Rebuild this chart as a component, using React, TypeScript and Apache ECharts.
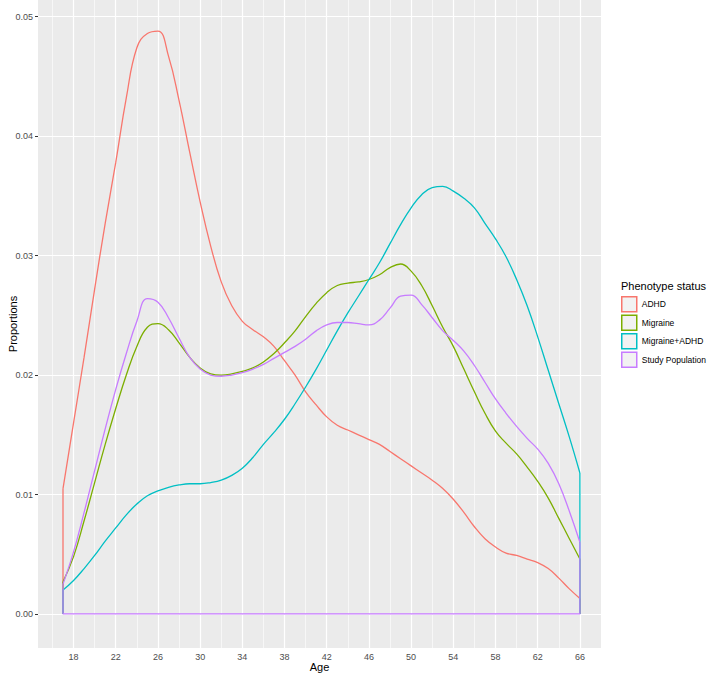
import React, { useEffect, useRef } from "react";
import * as echarts from "echarts";

const ages = [17,18,19,20,21,22,23,24,25,26,27,28,29,30,31,32,33,34,35,36,37,38,39,40,41,42,43,44,45,46,47,48,49,50,51,52,53,54,55,56,57,58,59,60,61,62,63,64,65,66];

const adhd = [0.0105,0.0160,0.0215,0.0272,0.0327,0.0378,0.0432,0.0474,0.0486,0.0488,0.0467,0.0430,0.0387,0.0345,0.0308,0.0278,0.0258,0.0245,0.0238,0.0232,0.0224,0.0212,0.0200,0.0186,0.0175,0.0165,0.0158,0.0154,0.0150,0.0146,0.0142,0.0136,0.0130,0.0124,0.0118,0.0112,0.0105,0.0096,0.0085,0.0073,0.0063,0.0056,0.0051,0.0049,0.0046,0.0043,0.0038,0.0030,0.0021,0.0013];
const migraine = [0.0027,0.0048,0.0078,0.0110,0.0142,0.0172,0.0200,0.0224,0.0240,0.0243,0.0238,0.0227,0.0215,0.0206,0.0201,0.0200,0.0201,0.0203,0.0206,0.0211,0.0218,0.0227,0.0237,0.0249,0.0260,0.0269,0.0275,0.0277,0.0278,0.0280,0.0284,0.0290,0.0293,0.0287,0.0275,0.0258,0.0240,0.0224,0.0205,0.0186,0.0168,0.0153,0.0143,0.0134,0.0123,0.0111,0.0097,0.0080,0.0063,0.0046];
const migraineAdhd = [0.0020,0.0028,0.0038,0.0049,0.0061,0.0072,0.0083,0.0092,0.0099,0.0103,0.0106,0.0108,0.0109,0.0109,0.0110,0.0112,0.0116,0.0122,0.0131,0.0142,0.0152,0.0163,0.0176,0.0190,0.0205,0.0221,0.0237,0.0252,0.0266,0.0280,0.0294,0.0310,0.0326,0.0340,0.0351,0.0357,0.0358,0.0354,0.0348,0.0340,0.0327,0.0314,0.0299,0.0280,0.0258,0.0232,0.0204,0.0176,0.0148,0.0118];
const studyPop = [0.0025,0.0052,0.0085,0.0120,0.0155,0.0188,0.0218,0.0245,0.0264,0.0261,0.0248,0.0231,0.0215,0.0205,0.0200,0.0199,0.0200,0.0202,0.0205,0.0209,0.0214,0.0219,0.0224,0.0230,0.0237,0.0242,0.0244,0.0244,0.0243,0.0242,0.0246,0.0256,0.0266,0.0267,0.0259,0.0248,0.0237,0.0229,0.0220,0.0208,0.0194,0.0180,0.0168,0.0157,0.0147,0.0138,0.0126,0.0109,0.0086,0.0060];

const groupNames = ["ADHD", "Migraine", "Migraine+ADHD", "Study Population"];
const groupColors = ["#F8766D", "#7CAE00", "#00BFC4", "#C77CFF"];
const groupValues = [adhd, migraine, migraineAdhd, studyPop];

const xTicks = [18,22,26,30,34,38,42,46,50,54,58,62,66];
const xMinor = [16,20,24,28,32,36,40,44,48,52,56,60,64];
const yTicks = [0,0.01,0.02,0.03,0.04,0.05];
const yMinor = [0.005,0.015,0.025,0.035,0.045];

const legendTitle = "Phenotype status";
const xName = "Age";
const yName = "Proportions";

export default function App() {
  const ref = useRef<HTMLDivElement>(null);
  useEffect(() => {
    document.body.style.margin = "0";
    const chart = echarts.init(ref.current!, null, { renderer: "svg" });
    const font = "Liberation Sans, Arial, sans-serif";
    const gridSeries: any = {
      type: "line",
      data: [],
      silent: true,
      z: 1,
      markLine: {
        silent: true,
        z: 1,
        symbol: ["none", "none"],
        label: { show: false },
        animation: false,
        data: [
          ...xMinor.map((v) => ({ xAxis: v, lineStyle: { color: "#FFFFFF", width: 0.6, type: "solid" } })),
          ...yMinor.map((v) => ({ yAxis: v, lineStyle: { color: "#FFFFFF", width: 0.6, type: "solid" } })),
          ...xTicks.map((v) => ({ xAxis: v, lineStyle: { color: "#FFFFFF", width: 1.2, type: "solid" } })),
          ...yTicks.map((v) => ({ yAxis: v, lineStyle: { color: "#FFFFFF", width: 1.2, type: "solid" } })),
        ],
      },
    };
    const first = ages[0];
    const last = ages[ages.length - 1];
    const curveSeries: any[] = [];
    const lastIdx = groupNames.length - 1;
    groupNames.forEach((name, gi) => {
      const vals = groupValues[gi];
      const base = {
        name,
        type: "line",
        smooth: false,
        showSymbol: false,
        symbol: "none",
        z: 3 + gi * 2,
        lineStyle: { color: groupColors[gi], width: 1.3 },
        itemStyle: { color: groupColors[gi] },
      };
      if (gi === lastIdx) {
        curveSeries.push({ ...base, data: [[first, vals[0]], [first, 0], [last, 0], [last, vals[vals.length - 1]]] });
      } else {
        curveSeries.push({ ...base, data: [[first, vals[0]], [first, 0]] });
        curveSeries.push({ ...base, data: [[last, 0], [last, vals[vals.length - 1]]] });
      }
      curveSeries.push({
        ...base,
        data: ages.map((a, i) => [a, vals[i]]),
        smooth: 0.45,
        z: 4 + gi * 2,
      });
    });
    chart.setOption({
      animation: false,
      backgroundColor: "#FFFFFF",
      textStyle: { fontFamily: font },
      grid: {
        left: 38,
        top: 0,
        right: 108,
        bottom: 26,
        show: true,
        backgroundColor: "#EBEBEB",
        borderWidth: 0,
        containLabel: false,
        outerBoundsMode: "none",
      },
      title: {
        text: legendTitle,
        left: 621,
        top: 280,
        textStyle: { fontSize: 11, fontWeight: "normal", color: "#000000", fontFamily: font },
        padding: 0,
      },
      legend: {
        orient: "vertical",
        left: 621,
        top: 296,
        itemWidth: 15,
        itemHeight: 15,
        itemGap: 2,
        icon: "rect",
        padding: 0,
        textStyle: { fontSize: 8.5, color: "#000000", fontFamily: font },
        data: groupNames.map((n, i) => ({
          name: n,
          icon: "rect",
          itemStyle: { color: "#F2F2F2", borderColor: groupColors[i], borderWidth: 1.5 },
        })),
      },
      xAxis: {
        type: "value",
        min: 14.63,
        max: 68.0,
        name: xName,
        nameLocation: "middle",
        nameGap: 13,
        nameMoveOverlap: false,
        nameTextStyle: { fontSize: 11, color: "#000000", fontFamily: font },
        axisLine: { show: false },
        splitLine: { show: false },
        axisTick: { show: true, length: 3, lineStyle: { color: "#333333" }, customValues: xTicks },
        axisLabel: { customValues: xTicks, fontSize: 9, color: "#4D4D4D", margin: 4, fontFamily: font },
      },
      yAxis: {
        type: "value",
        min: -0.00285,
        max: 0.0514,
        name: yName,
        nameLocation: "middle",
        nameGap: 20,
        nameMoveOverlap: false,
        nameTextStyle: { fontSize: 11, color: "#000000", fontFamily: font },
        axisLine: { show: false },
        splitLine: { show: false },
        axisTick: { show: true, length: 3, lineStyle: { color: "#333333" }, customValues: yTicks },
        axisLabel: {
          customValues: yTicks,
          fontSize: 9,
          color: "#4D4D4D",
          margin: 5,
          fontFamily: font,
          formatter: (v: number) => v.toFixed(2),
        },
      },
      series: [gridSeries, ...curveSeries],
    });
    return () => chart.dispose();
  }, []);
  return <div ref={ref} style={{ position: "fixed", left: 0, top: 0, width: 709, height: 674 }} />;
}
